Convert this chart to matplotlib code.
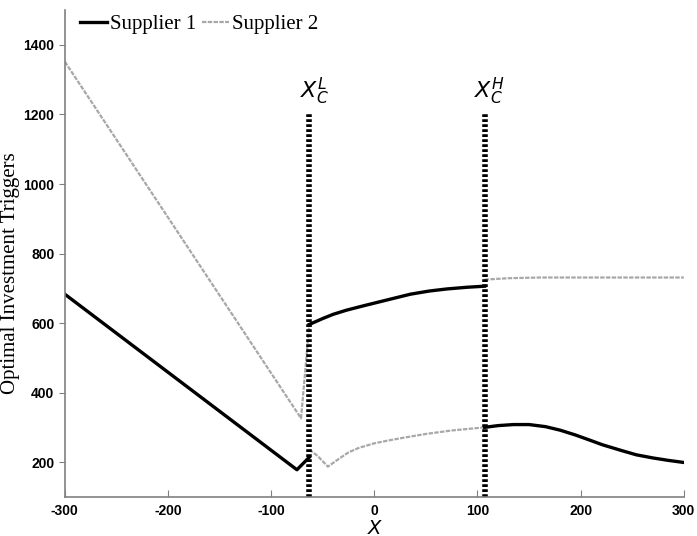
import numpy as np
import matplotlib.pyplot as plt

# Supplier 1 (black), three pieces split by the thresholds
s1_left_x = [-300, -75, -63]
s1_left_y = [683, 178, 214]
s1_mid_x = [-63, -50, -40, -27, -10, 5, 20, 35, 53, 70, 90, 107]
s1_mid_y = [596, 613, 625, 637, 650, 661, 672, 683, 692, 698, 703, 706]
s1_right_x = [107, 120, 135, 150, 166, 180, 195, 210, 221, 240, 254, 270, 285, 300]
s1_right_y = [300, 305, 308, 308, 302, 292, 278, 262, 250, 233, 221, 212, 205, 199]

# Supplier 2 (grey)
s2_left_x = [-300, -71, -63]
s2_left_y = [1352, 326, 596]
s2_mid_x = [-63, -55, -45, -35, -25, -15, 0, 15, 30, 50, 75, 107]
s2_mid_y = [236, 218, 187, 208, 228, 241, 254, 263, 271, 281, 291, 300]
s2_right_x = [107, 130, 160, 300]
s2_right_y = [725, 729, 731, 731]

# thresholds
xc_low = -63
xc_high = 107

plt.rcParams['mathtext.fontset'] = 'dejavusans'
plt.rcParams['axes.unicode_minus'] = False

fig = plt.figure(figsize=(6.97, 5.36), dpi=100)
ax = fig.add_axes([0.093, 0.073, 0.888, 0.908])

gray = '#a8a8a8'
for xs, ys in [(s2_left_x, s2_left_y), (s2_mid_x, s2_mid_y), (s2_right_x, s2_right_y)]:
    ax.plot(xs, ys, color=gray, lw=1.6, ls=(0, (2, 0.6)))
for xs, ys in [(s1_left_x, s1_left_y), (s1_mid_x, s1_mid_y), (s1_right_x, s1_right_y)]:
    ax.plot(xs, ys, color='black', lw=2.4)

for xc, lab in [(xc_low, r'$X_C^L$'), (xc_high, r'$X_C^H$')]:
    ax.plot([xc, xc], [100, 1200], color='black', lw=4, ls=(0, (0.5, 0.4)))
    ax.text(xc + 5, 1222, lab, ha='center', va='bottom', fontsize=16, style='italic')

ax.set_xlim(-300, 300)
ax.set_ylim(100, 1500)
ax.set_xticks([-300, -200, -100, 0, 100, 200, 300])
ax.set_yticks([200, 400, 600, 800, 1000, 1200, 1400])
ax.spines['top'].set_visible(False)
ax.spines['right'].set_visible(False)
for s in ['left', 'bottom']:
    ax.spines[s].set_color('#808080')
    ax.spines[s].set_linewidth(1.2)
ax.tick_params(axis='x', direction='in', length=5, color='#808080', pad=5)
ax.tick_params(axis='y', direction='out', length=4, color='#808080')
for t in ax.get_xticklabels() + ax.get_yticklabels():
    t.set_fontfamily('Liberation Sans')
    t.set_fontweight('bold')
    t.set_fontsize(10)

fig.text(375 / 697, 1 - 528 / 536, 'X', fontsize=14, style='italic', ha='center', va='center')
ax.set_ylabel('Optimal Investment Triggers', fontsize=15, family='Liberation Serif')
ax.yaxis.set_label_coords(-0.072, 0.46)

h1, = ax.plot([], [], color='black', lw=2.4)
h2, = ax.plot([], [], color=gray, lw=1.6, ls=(0, (2, 0.6)))
ax.legend([h1, h2], ['Supplier 1', 'Supplier 2'], ncol=2, frameon=False,
          loc='center left', bbox_to_anchor=(80 / 697, 1 - 24 / 536),
          bbox_transform=fig.transFigure, borderaxespad=0, borderpad=0,
          prop={'family': 'Liberation Serif', 'size': 15},
          handlelength=1.3, handletextpad=0.15, columnspacing=0.25)

fig.savefig('out.png', dpi=100)
